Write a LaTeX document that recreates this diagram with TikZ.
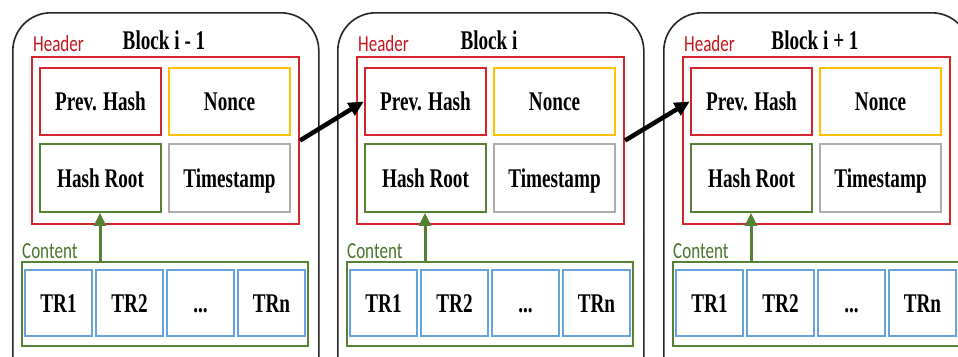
\documentclass[tikz,border=0pt]{standalone}
\usepackage{fontspec}
\setmainfont{Liberation Serif}
\newfontfamily\labfont{Carlito}
\usetikzlibrary{arrows.meta}
\definecolor{cred}{RGB}{212,36,46}
\definecolor{cyel}{RGB}{255,192,0}
\definecolor{cgrn}{RGB}{84,130,53}
\definecolor{cgry}{RGB}{172,172,172}
\definecolor{cblu}{RGB}{104,162,222}
\definecolor{hlabc}{RGB}{200,22,30}
\definecolor{clabc}{RGB}{74,116,44}
\newcommand\sq[1]{\scalebox{0.71}[1]{#1}}
\newcommand\sql[1]{\scalebox{0.74}[1]{#1}}
\begin{document}
\begin{tikzpicture}[x=1pt,y=-1pt,
  blockbox/.style={draw=black!85, line width=1.6pt, rounded corners=38pt,
    minimum width=306pt, minimum height=400pt, inner sep=0pt},
  box/.style={draw, line width=1.8pt, minimum width=121pt, minimum height=67pt,
    inner sep=0pt, anchor=center, text height=18.5pt, text depth=0pt,
    font=\fontsize{27}{27}\selectfont\bfseries},
  hdrbox/.style={draw=cred, line width=2pt, minimum width=267pt, minimum height=167pt, inner sep=0pt},
  phbox/.style={box, draw=cred, line width=2.6pt},
  ncbox/.style={box, draw=cyel, line width=2.2pt},
  hrbox/.style={box, draw=cgrn},
  tsbox/.style={box, draw=cgry},
  contbox/.style={draw=cgrn, line width=2.2pt, minimum width=286pt, minimum height=84pt, inner sep=0pt},
  trbox/.style={box, draw=cblu, line width=1.4pt, minimum width=67pt, minimum height=66pt},
  titlestyle/.style={inner sep=0pt, font=\fontsize{27}{27}\selectfont\bfseries},
  hlab/.style={inner sep=0pt, text=hlabc, font=\labfont\fontsize{23}{23}\selectfont},
  clab/.style={inner sep=0pt, text=clabc, font=\labfont\fontsize{23}{23}\selectfont},
  garrow/.style={draw=cgrn, line width=3pt, -{Triangle[width=12pt,length=13pt]}},
  barrow/.style={draw=black, line width=4.5pt, -{Triangle[width=14pt,length=15pt]}}
]
\useasboundingbox (0,0) rectangle (958,356);
\clip (0,0) rectangle (958,356);
\fill[white] (0,0) rectangle (958,356);
\foreach \i/\x/\t in {1/12/Block i - 1,2/337/Block i,3/663/Block i + 1}{
  \begin{scope}[xshift=\x pt]
    \node[blockbox, anchor=north west] (blk\i) at (0,12) {};
    \node[titlestyle, anchor=base] (ttl\i) at (152,49) {\sq{\t}};
    \node[hlab, anchor=base west] (hl\i) at (21,51) {\sql{Header}};
    \node[hdrbox] (hdr\i) at (153.5,140.5) {};
    \node[phbox] (ph\i) at (88.5,101.5) {\sq{Prev. Hash}};
    \node[ncbox] (nc\i) at (217.5,101.5) {\sq{Nonce}};
    \node[hrbox, minimum height=68pt] (hr\i) at (88.5,178) {\sq{Hash Root}};
    \node[tsbox, minimum height=68pt] (ts\i) at (217.5,178) {\sq{Timestamp}};
    \node[clab, anchor=base west] (cl\i) at (10,258) {\sql{Content}};
    \node[contbox] (cont\i) at (153,304) {};
    \node[trbox] (tra\i) at (46.5,303) {\sq{TR1}};
    \node[trbox] (trb\i) at (117.5,303) {\sq{TR2}};
    \node[trbox] (trc\i) at (188.5,303) {\sq{...}};
    \node[trbox] (trd\i) at (259.5,303) {\sq{TRn}};
    \coordinate (g\i) at (88,0);
    \draw[garrow] (cont\i.north -| g\i) -- (hr\i.south -| g\i);
  \end{scope}
}
\draw[barrow] (hdr1.east) -- (ph2.west);
\draw[barrow] (hdr2.east) -- (ph3.west);
\end{tikzpicture}
\end{document}
